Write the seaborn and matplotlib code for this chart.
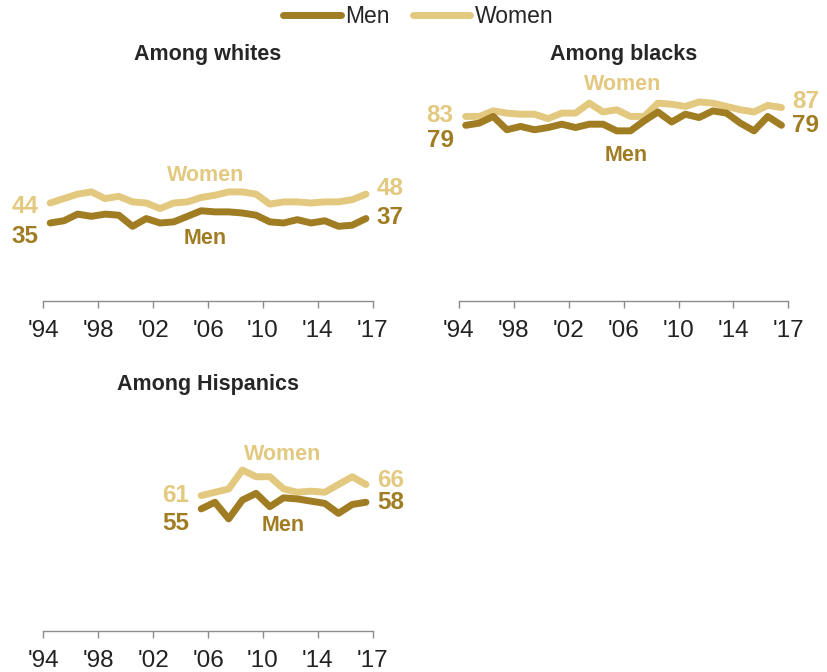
import numpy as np
import pandas as pd
import matplotlib
matplotlib.use("Agg")
import matplotlib.pyplot as plt
from matplotlib.lines import Line2D
import seaborn as sns

# data (share, %)
years = list(range(1994, 2018))
years_hisp = list(range(2005, 2018))

white_men = [35, 36, 39, 38, 39, 38.5, 33.5, 37, 35, 35.5, 38, 40.5, 40, 40, 39.5, 38.5,
             35.5, 35, 36.5, 35, 36, 33.5, 34, 37]
white_women = [44, 46, 48, 49, 46, 47, 44.5, 44, 41.5, 44, 44.5, 46.5, 47.5, 49, 49, 48,
               43.5, 44.5, 44.5, 44, 44.5, 44.5, 45.5, 48]
black_men = [79, 80, 83, 77, 78.5, 77, 78, 79.5, 78, 79.5, 79.5, 76.5, 76.5, 81, 85, 80.5,
             84, 82.5, 85.5, 84.5, 80, 76.5, 83, 79]
black_women = [83, 83, 85.5, 84.5, 84, 84, 82, 84.5, 84.5, 89, 85, 86, 83, 83, 89, 88.5,
               87.5, 89.5, 89, 87.5, 86, 85, 88, 87]
hisp_men = [55, 58, 50.5, 59, 62, 56, 60, 59.5, 58.5, 57.5, 53, 57, 58]
hisp_women = [61, 62.5, 64, 72.5, 69.5, 69.5, 64, 62.5, 63, 62.5, 66, 69.5, 66]

tick_labels = ["'94", "'98", "'02", "'06", "'10", "'14", "'17"]

MEN = "#A07D23"
WOMEN = "#E3C980"

sns.set_style("white")
plt.rcParams['font.family'] = ['Liberation Sans', 'DejaVu Sans']

fig, axes = plt.subplots(2, 2, figsize=(8.28, 6.72), dpi=100)
plt.subplots_adjust(left=0.0523, right=0.9521, top=0.8829, bottom=0.061,
                    wspace=0.261, hspace=0.488)
axes[1, 1].axis('off')

panels = [
    (axes[0, 0], "Among whites", years, white_men, white_women,
     # label offsets (px): left women, left men, right women, right men
     (-3, -14, 6, 1), (2005.3, 56.6), (2005.3, 27.8)),
    (axes[0, 1], "Among blacks", years, black_men, black_women,
     (1, -15, 6, 0), (2005.4, 97.2), (2005.7, 65.6)),
    (axes[1, 0], "Among Hispanics", years_hisp, hisp_men, hisp_women,
     (0, -15, 4, 0), (2010.9, 79.3), (2011.0, 47.7)),
]

for ax, title, yrs, men, women, offs, wpos, mpos in panels:
    df = pd.DataFrame({
        'year': yrs * 2,
        'value': women + men,
        'sex': ['Women'] * len(yrs) + ['Men'] * len(yrs),
    })
    sns.lineplot(data=df, x='year', y='value', hue='sex', hue_order=['Women', 'Men'],
                 palette={'Men': MEN, 'Women': WOMEN}, linewidth=5, legend=False,
                 solid_capstyle='round', solid_joinstyle='round', ax=ax)

    ax.set_xlim(1993.5, 2017.5)
    ax.set_ylim(0, 100)
    ax.set_xticks(np.arange(1993.5, 2014, 4).tolist() + [2017.5])
    ax.set_xticklabels(tick_labels, fontsize=17.5, color='#222222')
    ax.set_yticks([])
    ax.set_xlabel('')
    ax.set_ylabel('')
    for s in ['left', 'top', 'right']:
        ax.spines[s].set_visible(False)
    ax.spines['bottom'].set_color('#8c8c8c')
    ax.spines['bottom'].set_linewidth(1)
    ax.tick_params(axis='x', bottom=True, direction='out', length=5, width=1,
                   color='#8c8c8c', pad=9)
    ax.set_title(title, fontsize=15.5, fontweight='bold', pad=13.5)

    # end value labels
    lw, lm, rw, rm = offs
    for val, col, dy in [(women[0], WOMEN, lw), (men[0], MEN, lm)]:
        ax.annotate(f"{val:.0f}", (yrs[0], val), xytext=(-12, dy), textcoords='offset pixels',
                    ha='right', va='center', fontsize=17.5, fontweight='bold', color=col)
    for val, col, dy in [(women[-1], WOMEN, rw), (men[-1], MEN, rm)]:
        ax.annotate(f"{val:.0f}", (yrs[-1], val), xytext=(11, dy), textcoords='offset pixels',
                    ha='left', va='center', fontsize=17.5, fontweight='bold', color=col)

    ax.text(wpos[0], wpos[1], "Women", ha='center', va='center', fontsize=15.5,
            fontweight='bold', color=WOMEN)
    ax.text(mpos[0], mpos[1], "Men", ha='center', va='center', fontsize=15.5,
            fontweight='bold', color=MEN)

handles = [Line2D([0], [0], color=MEN, lw=5, solid_capstyle='round'),
           Line2D([0], [0], color=WOMEN, lw=5, solid_capstyle='round')]
fig.legend(handles, ['Men', 'Women'], loc='center', bbox_to_anchor=(0.505, 0.975),
           ncol=2, frameon=False, fontsize=16.5, handlelength=2.5, handletextpad=0.2,
           columnspacing=1.0)

plt.savefig("out.png", dpi=100)
